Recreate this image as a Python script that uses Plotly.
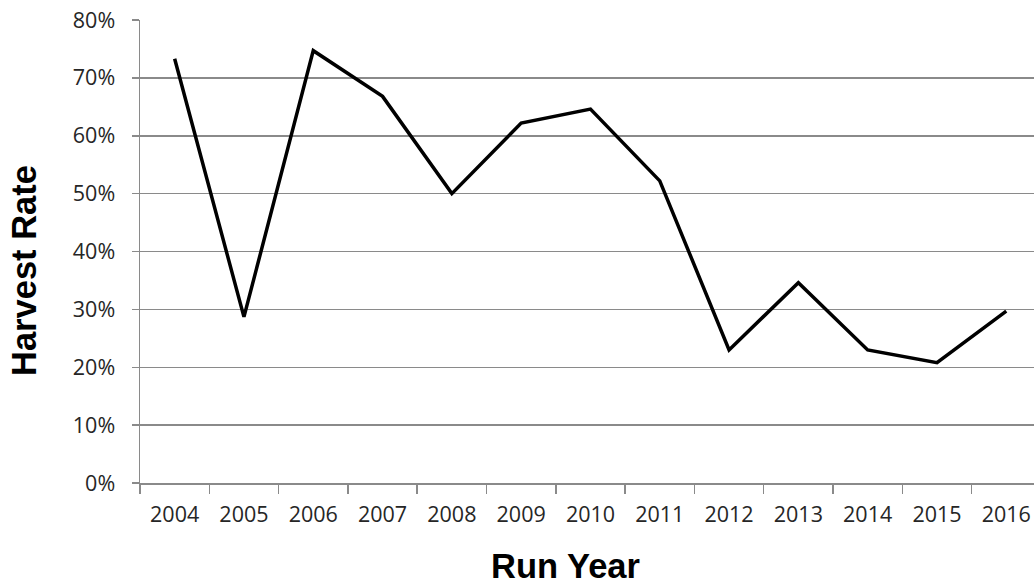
import plotly.graph_objects as go

years = ["2004", "2005", "2006", "2007", "2008", "2009", "2010",
         "2011", "2012", "2013", "2014", "2015", "2016"]
harvest_rate = [0.733, 0.287, 0.747, 0.668, 0.500, 0.622, 0.646,
                0.522, 0.230, 0.346, 0.230, 0.208, 0.297]
y_ticks = [0, 0.1, 0.2, 0.3, 0.4, 0.5, 0.6, 0.7, 0.8]
y_tick_labels = ["0%", "10%", "20%", "30%", "40%", "50%", "60%", "70%", "80%"]

GRID = "#8a8a8a"
TXT = "#262626"

fig = go.Figure(go.Scatter(
    x=years, y=harvest_rate, mode="lines",
    line=dict(color="black", width=3.5),
    hoverinfo="skip", showlegend=False,
))

fig.update_layout(
    width=1034, height=586,
    margin=dict(l=140, r=0, t=20, b=103, autoexpand=False),
    plot_bgcolor="white", paper_bgcolor="white",
    font=dict(family="Open Sans", color=TXT, size=21),
    xaxis=dict(
        type="category", range=[-0.5, 12.4], automargin=False,
        showline=True, linecolor=GRID, linewidth=1.5,
        ticks="outside", tickson="boundaries", ticklen=9,
        tickcolor=GRID, tickwidth=1.5, showgrid=False,
        tickfont=dict(family="Open Sans", size=21.5, color=TXT),
        ticklabelstandoff=12,
    ),
    yaxis=dict(
        range=[0, 0.8], tickvals=y_ticks, ticktext=y_tick_labels,
        automargin=False,
        showline=True, linecolor=GRID, linewidth=1.5,
        ticks="outside", ticklen=7, tickcolor=GRID, tickwidth=1.5,
        showgrid=True, gridcolor=GRID, gridwidth=1.5, zeroline=False,
        tickfont=dict(family="Open Sans", size=21.5, color=TXT),
        ticklabelstandoff=12,
    ),
    annotations=[
        dict(text="<b>Run Year</b>", x=565, y=566, xref="paper", yref="paper",
             showarrow=False, font=dict(family="Liberation Sans", size=34.5, color="black")),
        dict(text="<b>Harvest Rate</b>", textangle=-90, x=24, y=271,
             xref="paper", yref="paper", showarrow=False,
             font=dict(family="Liberation Sans", size=34.5, color="black")),
    ],
)

# convert pixel positions of annotations to paper coordinates
pw = 1034 - 140
ph = 586 - 20 - 103
for a in fig.layout.annotations:
    px, py = a.x, a.y
    a.x = (px - 140) / pw
    a.y = (586 - 103 - py) / ph
    a.xanchor = "center"
    a.yanchor = "middle"

fig.write_html(
    "out.html",
    config={"displayModeBar": False, "staticPlot": True},
    post_script="document.body.style.margin='0';document.body.style.overflow='hidden';",
)
